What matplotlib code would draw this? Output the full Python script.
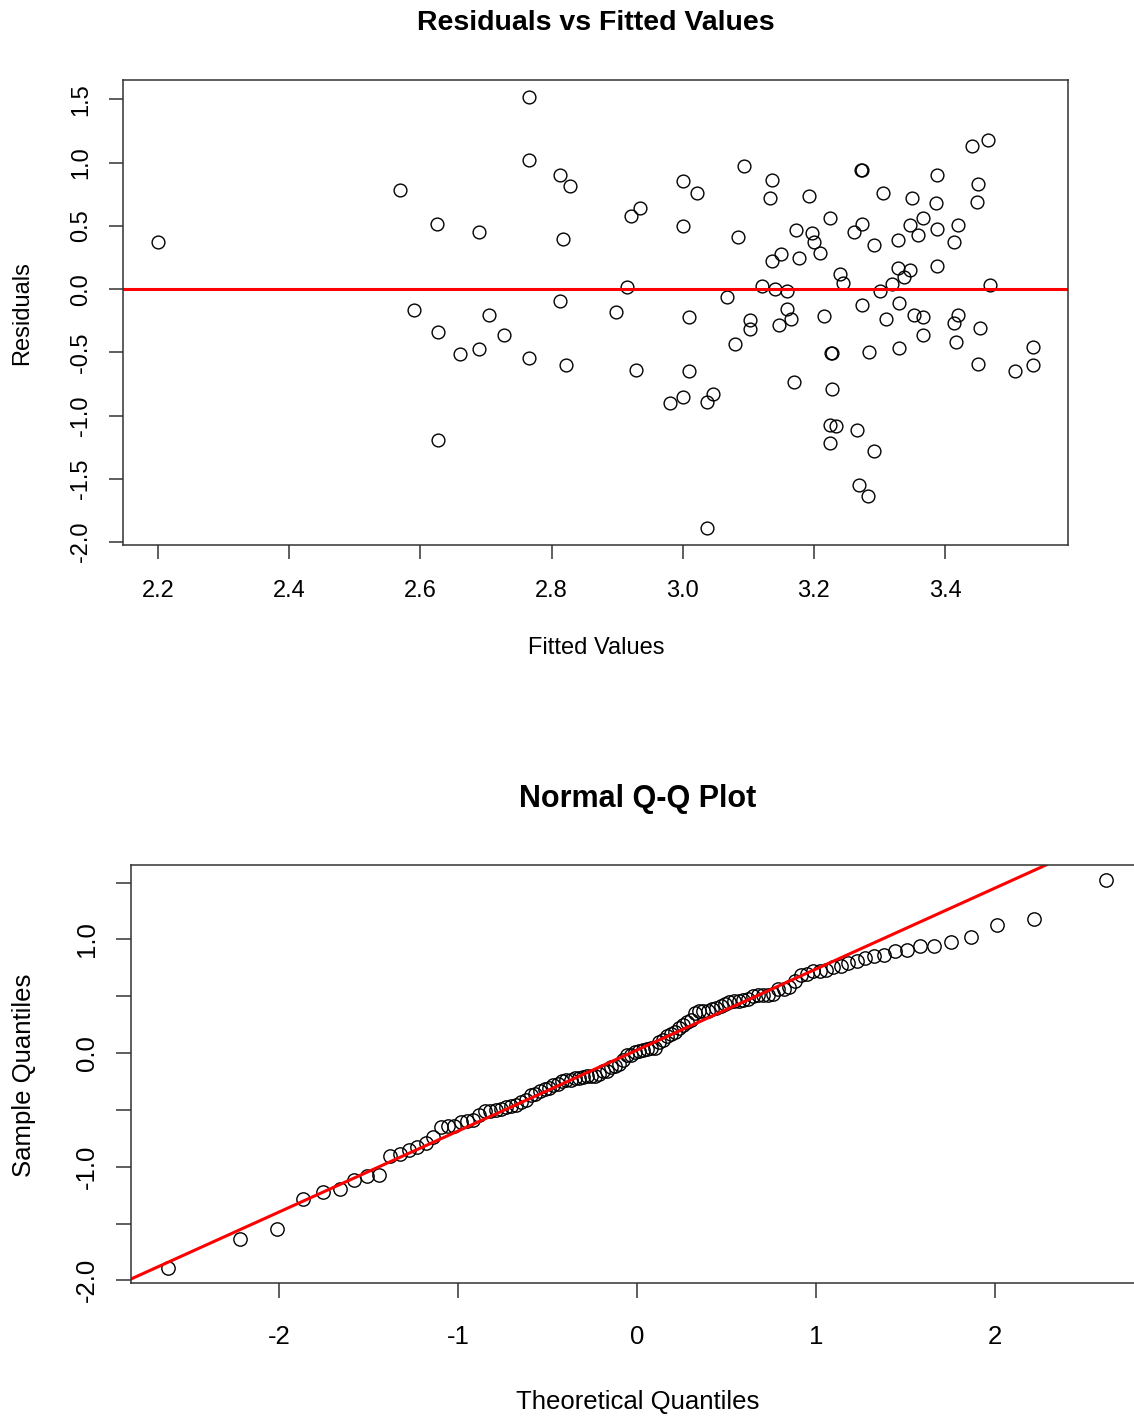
import numpy as np
import matplotlib
matplotlib.use("Agg")
import matplotlib.pyplot as plt
from statistics import NormalDist

plt.rcParams["font.family"] = ["Liberation Sans", "DejaVu Sans"]
plt.rcParams["axes.unicode_minus"] = False

# fitted values and residuals
fitted = [
    2.200, 2.569, 2.625, 2.690, 2.766, 2.766, 2.813, 2.828, 2.818, 2.813,
    2.591, 2.627, 2.705, 2.660, 2.690, 2.728, 2.766, 2.822, 2.627,
    2.915, 2.921, 2.935, 3.001, 3.022, 3.001, 3.094, 3.085, 3.068, 3.121,
    3.136, 3.133, 3.136, 3.150, 3.141, 3.159, 3.159, 3.173, 3.178, 3.193,
    3.197, 3.200, 3.210, 3.225, 3.240, 3.244, 3.273, 3.272, 3.273, 3.261,
    3.291, 3.306, 3.300, 3.319, 3.328, 3.328, 3.347, 3.338, 3.347, 3.350,
    3.358, 3.366, 3.387, 3.386, 3.387, 3.387, 3.413, 3.420, 3.441, 3.466,
    3.450, 3.449, 3.469, 3.273, 3.329, 2.898,
    2.928, 3.009, 3.009, 3.000, 2.981, 3.046, 3.037, 3.037, 3.079, 3.103,
    3.103, 3.147, 3.165, 3.169, 3.216, 3.226, 3.227, 3.227, 3.224, 3.233,
    3.225, 3.266, 3.291, 3.269, 3.282, 3.284, 3.310, 3.329, 3.352, 3.366,
    3.366, 3.413, 3.420, 3.417, 3.453, 3.450, 3.506, 3.534, 3.534,
]
residuals = [
    0.374, 0.788, 0.516, 0.456, 1.518, 1.020, 0.904, 0.814, 0.398, -0.095,
    -0.161, -0.337, -0.203, -0.511, -0.472, -0.366, -0.548, -0.603, -1.194,
    0.018, 0.580, 0.638, 0.856, 0.761, 0.501, 0.978, 0.416, -0.063, 0.024,
    0.862, 0.722, 0.224, 0.277, 0.005, -0.013, -0.156, 0.469, 0.250, 0.733,
    0.445, 0.374, 0.290, 0.559, 0.119, 0.045, 0.943, 0.945, 0.514, 0.456,
    0.353, 0.764, -0.013, 0.042, 0.387, 0.171, 0.153, 0.095, 0.508, 0.722,
    0.429, 0.561, 0.901, 0.685, 0.472, 0.187, 0.374, 0.508, 1.130, 1.178,
    0.835, 0.693, 0.034, -0.124, -0.111, -0.182,
    -0.638, -0.219, -0.648, -0.851, -0.904, -0.827, -0.891, -1.887, -0.432, -0.243,
    -0.316, -0.285, -0.235, -0.735, -0.211, -0.506, -0.503, -0.793, -1.075, -1.083,
    -1.220, -1.117, -1.283, -1.547, -1.634, -0.493, -0.235, -0.469, -0.203, -0.219,
    -0.361, -0.269, -0.203, -0.414, -0.308, -0.590, -0.646, -0.461, -0.601,
]

top_xticks = [2.2, 2.4, 2.6, 2.8, 3.0, 3.2, 3.4]
top_yticks = [-2.0, -1.5, -1.0, -0.5, 0.0, 0.5, 1.0, 1.5]
qq_xticks = [-2, -1, 0, 1, 2]
qq_yticks = [-2.0, -1.5, -1.0, -0.5, 0.0, 0.5, 1.0, 1.5]

W, H = 1134, 1416
EDGE = "#333333"


def px_axes(fig, left, top, right, bottom):
    return fig.add_axes([left / W, 1 - bottom / H, (right - left) / W, (bottom - top) / H])


def px_text(fig, x, y, s, **kw):
    fig.text(x / W, 1 - y / H, s, ha="center", va="center", **kw)


def style_axes(ax, size, xpad, length):
    for sp in ax.spines.values():
        sp.set_color(EDGE)
        sp.set_linewidth(1.1)
    ax.tick_params(axis="both", direction="out", length=length, width=1.1,
                   color=EDGE, labelsize=size, pad=12)
    ax.tick_params(axis="x", pad=xpad)
    ax.tick_params(axis="y", labelrotation=90)
    for lab in ax.get_yticklabels():
        lab.set_va("center")


fig = plt.figure(figsize=(W / 100, H / 100), dpi=100)

# Residuals vs fitted
ax1 = px_axes(fig, 123, 80, 1068, 545)
ax1.plot(fitted, residuals, "o", ms=9.2, mfc="none", mec="black", mew=1.0)
ax1.axhline(0, color="red", lw=2.2)
ax1.margins(0.04)
ax1.set_xticks(top_xticks)
ax1.set_xticklabels([f"{t:.1f}" for t in top_xticks])
ax1.set_yticks(top_yticks)
ax1.set_yticklabels([f"{t:.1f}" for t in top_yticks])
style_axes(ax1, 17, 15.5, 10)
px_text(fig, 596, 23, "Residuals vs Fitted Values", fontsize=20.5, fontweight="bold")
px_text(fig, 596, 648, "Fitted Values", fontsize=17)
px_text(fig, 22, 313, "Residuals", fontsize=17, rotation=90)

# Normal Q-Q
sample = np.sort(np.array(residuals))
n = len(sample)
nd = NormalDist()
probs = (np.arange(1, n + 1) - 0.5) / n
theo = np.array([nd.inv_cdf(p) for p in probs])
q1, q3 = np.quantile(sample, [0.25, 0.75])
z1, z3 = nd.inv_cdf(0.25), nd.inv_cdf(0.75)
slope = (q3 - q1) / (z3 - z1)
intercept = q1 - slope * z1

ax2 = px_axes(fig, 131, 865, 1143, 1283)
ax2.plot(theo, sample, "o", ms=9.6, mfc="none", mec="black", mew=1.0)
ax2.margins(0.04)
ax2.axline((0, intercept), slope=slope, color="red", lw=2.2)
ax2.set_xticks(qq_xticks)
ax2.set_xticklabels([str(t) for t in qq_xticks])
ax2.set_yticks(qq_yticks)
ax2.set_yticklabels([f"{t:.1f}" if t == int(t) else "" for t in qq_yticks])
style_axes(ax2, 18.5, 19, 11)
px_text(fig, 638, 799, "Normal Q-Q Plot", fontsize=22, fontweight="bold")
px_text(fig, 638, 1402, "Theoretical Quantiles", fontsize=18.5)
px_text(fig, 24, 1075, "Sample Quantiles", fontsize=18.5, rotation=90)

fig.savefig("out.png", dpi=100)
